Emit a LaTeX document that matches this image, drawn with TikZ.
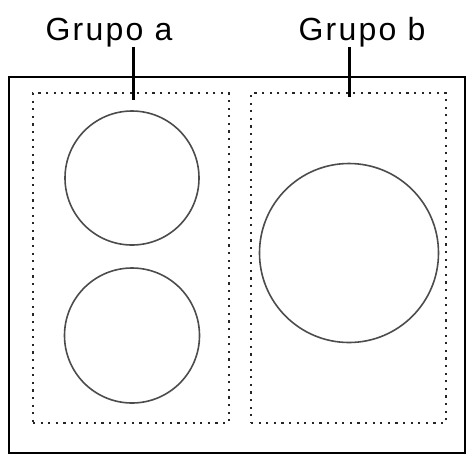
\documentclass[tikz,border=0pt]{standalone}
\usepackage{fontspec}
\setmainfont{Liberation Sans}
\usetikzlibrary{positioning}

\tikzset{
	hobframe/.style={draw=black, line width=2.4pt, inner sep=0pt},
	zone/.style={draw=black!85, line width=2.4pt, dash pattern=on 2.2pt off 5.4pt, inner sep=0pt},
	plate/.style={circle, draw=black!70, line width=1.6pt, inner sep=0pt},
	leader/.style={line width=3pt},
	grouplabel/.style={anchor=base, inner sep=0pt, font=\fontsize{32}{38}\selectfont\addfontfeature{LetterSpace=7}}
}

\begin{document}
\begin{tikzpicture}[x=1pt, y=-1pt]
	\useasboundingbox (0,0) rectangle (471,459);

	% Cooktop outline
	\node[hobframe, minimum width=456pt, minimum height=376pt] (hob) at (237,265) {};

	% Dotted cooking zones
	\node[zone, minimum width=196pt, minimum height=330pt] (zoneA) at (131,258) {};
	\node[zone, minimum width=195pt, minimum height=330pt] (zoneB) at (348.5,258) {};

	% Hot plates
	\node[plate, minimum size=134pt] (plateA1) at (132,178) {};
	\node[plate, minimum size=135pt] (plateA2) at (132,335.5) {};
	\node[plate, minimum size=179pt] (plateB) at (349,253) {};

	% Group labels
	\node[grouplabel] (lblA) at (109,40) {Grupo a};
	\node[grouplabel] (lblB) at (362,40) {Grupo b};

	% Leader lines
	\coordinate (topA) at (133,47);
	\coordinate (endA) at (133,100);
	\coordinate (topB) at (349,47);
	\coordinate (endB) at (349,97);
	\draw[leader] (topA) -- (endA);
	\draw[leader] (topB) -- (endB);
\end{tikzpicture}
\end{document}
